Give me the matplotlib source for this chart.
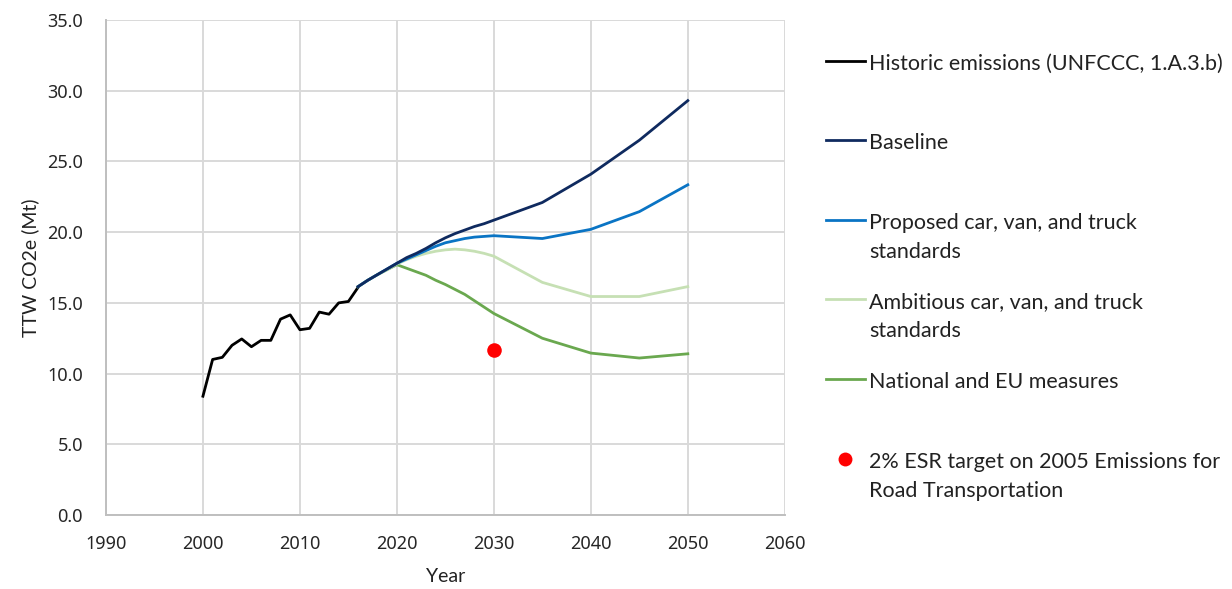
import matplotlib
matplotlib.use("Agg")
import matplotlib.pyplot as plt
from matplotlib.lines import Line2D

# Historic road transport emissions (Mt CO2e)
hist_years = list(range(2000, 2017))
hist_values = [8.4, 11.0, 11.15, 12.0, 12.45, 11.9, 12.35, 12.35, 13.85, 14.15,
               13.1, 13.2, 14.35, 14.2, 15.0, 15.1, 16.1]

# Projection scenarios
proj_years = list(range(2016, 2031)) + [2035, 2040, 2045, 2050]
baseline = [16.15, 16.6, 17.0, 17.4, 17.8, 18.2, 18.5, 18.85, 19.25, 19.6,
            19.9, 20.15, 20.4, 20.6, 20.85, 22.1, 24.1, 26.5, 29.3]
proposed = [16.15, 16.6, 17.0, 17.4, 17.8, 18.1, 18.4, 18.7, 19.0, 19.25,
            19.4, 19.55, 19.65, 19.7, 19.75, 19.55, 20.2, 21.45, 23.35]
ambitious = [16.15, 16.6, 17.0, 17.35, 17.75, 18.05, 18.3, 18.5, 18.65, 18.75,
             18.8, 18.75, 18.65, 18.5, 18.3, 16.45, 15.45, 15.45, 16.15]
national = [16.15, 16.6, 17.0, 17.35, 17.7, 17.45, 17.2, 16.95, 16.6, 16.3,
            15.95, 15.6, 15.15, 14.7, 14.25, 12.5, 11.45, 11.1, 11.4]

target_year = [2030]
target_value = [11.65]

labels = [
    "Historic emissions (UNFCCC, 1.A.3.b)",
    "Baseline",
    "Proposed car, van, and truck\nstandards",
    "Ambitious car, van, and truck\nstandards",
    "National and EU measures",
    "2% ESR target on 2005 Emissions for\nRoad Transportation",
]
colors = ["#000000", "#0f2a5f", "#0a74c4", "#c6e0b4", "#6aa84f", "#ff0000"]

x_ticks = list(range(1990, 2061, 10))
y_ticks = [i * 5.0 for i in range(8)]

TEXT_FONT = ["Lato", "DejaVu Sans"]
TICK_FONT = ["Noto Sans", "DejaVu Sans"]

fig = plt.figure(figsize=(12.32, 5.89), dpi=100)
ax = fig.add_axes([0.086, 0.1256, 0.551, 0.8404])

lw = 2.0
ax.plot(hist_years, hist_values, color=colors[0], lw=lw, zorder=3)
ax.plot(proj_years, national, color=colors[4], lw=lw, zorder=3)
ax.plot(proj_years, ambitious, color=colors[3], lw=lw, zorder=3)
ax.plot(proj_years, proposed, color=colors[2], lw=lw, zorder=3)
ax.plot(proj_years, baseline, color=colors[1], lw=lw, zorder=3)
ax.scatter(target_year, target_value, s=110, color=colors[5], zorder=4, linewidths=0)

ax.set_xlim(1990, 2060)
ax.set_ylim(0, 35)
ax.set_xticks(x_ticks)
ax.set_yticks(y_ticks)
ax.set_yticklabels([f"{v:.1f}" for v in y_ticks], fontfamily=TICK_FONT, fontsize=13, color="#262626")
ax.set_xticklabels([str(v) for v in x_ticks], fontfamily=TICK_FONT, fontsize=13, color="#262626")
ax.tick_params(axis="both", length=0)
ax.tick_params(axis="y", pad=16.5)
ax.tick_params(axis="x", pad=14.5)
ax.grid(True, color="#d9d9d9", lw=1.4, zorder=0)
ax.set_axisbelow(True)
for side in ["top", "right"]:
    ax.spines[side].set_visible(False)
for side in ["left", "bottom"]:
    ax.spines[side].set_color("#bfbfbf")
    ax.spines[side].set_linewidth(1.4)

ax.set_xlabel("Year", fontfamily=TEXT_FONT, fontsize=14, color="#222222", labelpad=11)
ax.set_ylabel("TTW CO2e (Mt)", fontfamily=TEXT_FONT, fontsize=14, color="#222222", labelpad=6)

# Legend drawn on the right with entries aligned to their first text line
W, H = 1232.0, 589.0
first_line_y = [61, 140, 220, 299, 379, 459]
for i, (lab, col, ypx) in enumerate(zip(labels, colors, first_line_y)):
    yf = 1 - ypx / H
    if i < 5:
        fig.add_artist(Line2D([826 / W, 865 / W], [yf, yf], color=col, lw=2.0))
    else:
        fig.add_artist(Line2D([845 / W], [yf], color=col, marker="o", markersize=10,
                              linestyle="none", markeredgewidth=0))
    fig.text(869 / W, yf + 7 / H, lab, fontfamily=TEXT_FONT, fontsize=15.5,
             color="#222222", va="top", ha="left", linespacing=1.55)

fig.savefig("out.png", dpi=100)
